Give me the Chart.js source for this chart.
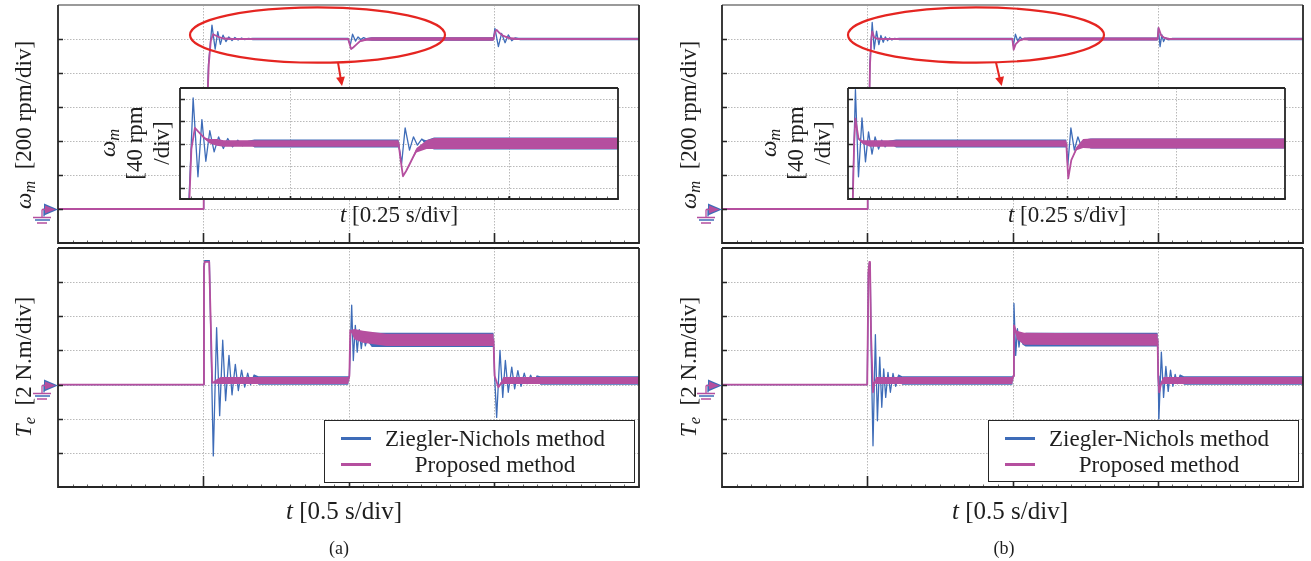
<!DOCTYPE html>
<html><head><meta charset="utf-8">
<script src="https://cdn.jsdelivr.net/npm/chart.js@4.4.0/dist/chart.umd.min.js"></script>
<style>
html,body{margin:0;padding:0;background:#fff;width:1311px;height:561px;overflow:hidden;position:relative;font-family:"Liberation Serif","Times New Roman",serif;color:#1e1e1e}
canvas{position:absolute}
.t{position:absolute;white-space:nowrap;font-size:23px;line-height:1;transform:translate(-50%,-50%);z-index:5}
.r{transform:translate(-50%,-50%) rotate(-90deg)}
.big{font-size:25px}
sub{font-size:0.72em;vertical-align:-0.28em;font-style:italic;line-height:0}
.cap{font-size:18px}
.legend{position:absolute;border:1.5px solid #262626;background:#fff;box-sizing:border-box;z-index:6}
.legend .row{position:absolute;left:0;width:100%;height:26px}
.legend .sw{position:absolute;left:16px;width:30px;height:3px;top:11px}
.legend .lt{position:absolute;left:52px;width:236px;text-align:center;font-size:23px;line-height:26px;top:0}
svg{position:absolute;left:0;top:0;z-index:4}
</style></head>
<body>
<script>
// ---------------- data (time in s, value, noise half-band in same units) ----------------
const seriesNames = ['Ziegler-Nichols method', 'Proposed method'];

const tRangeMain = [0, 2];
const tRangeInset = [0.5, 1.5];
const spdRange = [-200, 1200];
const spdRangeInset = [900, 1100];
const trqRange = [-6, 8];

const tGridMain = [0.5, 1.0, 1.5];
const tGridInset = [0.75, 1.0, 1.25];
const spdGrid = [0, 200, 400, 600, 800, 1000];
const spdGridInset = [920, 960, 1000, 1040, 1080];
const trqGrid = [-4, -2, 0, 2, 4, 6];

// speed [rpm], panel (a)
const spdZN_a = [[0,0,0],[0.5,0,0],[0.5015,60,0],[0.518,850,0],[0.530,1082,0],[0.541,940,0],[0.550,1043,0],[0.559,968,0],[0.568,1023,0],[0.578,985,0],[0.588,1012,0],[0.599,991,0],[0.609,1009,0],[0.620,994,0],[0.632,1006,0],[0.643,996,0],[0.655,1003,2],[0.67,1000,7],[0.999,1000,7],[1.006,964,0],[1.014,1028,0],[1.024,988,0],[1.033,1012,0],[1.042,997,0],[1.052,1008,0],[1.062,1000,6],[1.08,1000,11],[1.499,1000,11],[1.504,1063,0],[1.516,955,0],[1.527,1033,0],[1.539,978,0],[1.550,1024,0],[1.562,990,0],[1.573,1006,2],[1.59,1000,7],[2.0,1000,7]];
const spdPR_a = [[0,0,0],[0.5,0,0],[0.5015,60,0],[0.519,850,0],[0.526,990,0],[0.534,1028,0],[0.546,1018,0],[0.557,1009,2],[0.568,1004,4],[0.584,1002,6],[0.60,1000,6],[0.999,1000,6],[1.003,975,0],[1.009,941,0],[1.016,950,0],[1.025,964,0],[1.040,988,4],[1.063,998,8],[1.08,1000,10],[1.499,1000,10],[1.505,1045,0],[1.510,1053,0],[1.520,1035,0],[1.533,1018,2],[1.556,1004,6],[1.58,1000,6],[2.0,1000,6]];
// speed [rpm], panel (b)
const spdZN_b = [[0,0,0],[0.5,0,0],[0.5015,60,0],[0.509,850,0],[0.517,1097,0],[0.524,940,0],[0.532,1046,0],[0.540,967,0],[0.547,1021,0],[0.555,981,0],[0.562,1012,0],[0.570,990,0],[0.577,1006,0],[0.585,994,0],[0.593,1003,2],[0.61,1000,7],[0.9995,1000,7],[1.003,961,0],[1.010,1028,0],[1.018,988,0],[1.026,1012,0],[1.033,997,0],[1.041,1004,3],[1.055,1000,9],[1.4995,1000,9],[1.502,1065,0],[1.508,955,0],[1.514,1025,0],[1.520,985,0],[1.527,1008,0],[1.535,996,3],[1.55,1000,7],[2.0,1000,7]];
const spdPR_b = [[0,0,0],[0.5,0,0],[0.5015,60,0],[0.5095,850,0],[0.514,1000,0],[0.517,1045,0],[0.524,1009,0],[0.532,1003,3],[0.55,1000,6],[0.9995,1000,6],[1.002,965,0],[1.004,937,0],[1.011,970,0],[1.023,991,3],[1.038,1000,8],[1.06,1000,9],[1.4995,1000,9],[1.503,1065,0],[1.512,1020,0],[1.525,1005,4],[1.54,1000,6],[2.0,1000,6]];

// torque [N.m], panel (a)
const trqZN_a = [[0,0,0],[0.5,0,0],[0.5025,6.9,0],[0.505,7.26,0],[0.521,7.26,0],[0.526,3.0,0],[0.5346,-4.18,0],[0.546,3.33,0],[0.5565,-1.82,0],[0.567,2.6,0],[0.577,-0.94,0],[0.5886,1.71,0],[0.599,-0.6,0],[0.6104,1.18,0],[0.6207,-0.35,0],[0.632,0.85,0],[0.6427,-0.15,0],[0.653,0.67,0],[0.663,0.0,0],[0.674,0.5,0.1],[0.69,0.24,0.25],[0.999,0.24,0.25],[1.003,0.5,0],[1.011,4.65,0],[1.0166,1.41,0],[1.0235,3.47,0],[1.030,1.9,0],[1.037,3.22,0],[1.044,2.1,0],[1.051,2.98,0],[1.058,2.27,0],[1.065,2.75,0.2],[1.08,2.62,0.42],[1.499,2.62,0.42],[1.503,0.5,0],[1.510,-1.92,0],[1.5215,2.0,0],[1.531,-0.75,0],[1.540,1.41,0],[1.550,-0.45,0],[1.562,1.02,0],[1.572,-0.25,0],[1.583,0.82,0],[1.594,-0.1,0],[1.605,0.67,0],[1.615,0.05,0],[1.627,0.55,0],[1.638,0.1,0],[1.648,0.45,0.1],[1.66,0.24,0.25],[2.0,0.24,0.25]];
const trqPR_a = [[0,0,0],[0.5,0,0],[0.5025,6.9,0],[0.505,7.19,0],[0.5205,7.19,0],[0.531,0.1,0],[0.54,0.15,0.1],[0.56,0.24,0.2],[0.999,0.24,0.2],[1.003,0.5,0],[1.006,3.18,0],[1.02,2.95,0.3],[1.05,2.8,0.35],[1.13,2.62,0.36],[1.499,2.62,0.36],[1.503,0.5,0],[1.516,-0.16,0],[1.526,0.1,0.1],[1.533,0.24,0.2],[2.0,0.24,0.2]];
// torque [N.m], panel (b)
const trqZN_b = [[0,0,0],[0.5,0,0],[0.504,6.5,0],[0.507,7.1,0],[0.510,7.1,0],[0.5135,2.0,0],[0.5198,-3.59,0],[0.528,2.92,0],[0.535,-2.12,0],[0.543,1.61,0],[0.550,-1.33,0],[0.5566,0.92,0],[0.5635,-0.75,0],[0.5714,0.72,0],[0.5796,-0.45,0],[0.5886,0.65,0],[0.598,-0.1,0],[0.607,0.5,0.1],[0.62,0.24,0.25],[0.9995,0.24,0.25],[1.002,0.5,0],[1.005,4.75,0],[1.011,1.71,0],[1.017,3.27,0],[1.0223,2.2,0],[1.028,2.98,0],[1.034,2.45,0.1],[1.045,2.63,0.4],[1.4995,2.63,0.4],[1.5015,0.5,0],[1.504,-2.02,0],[1.5124,1.9,0],[1.520,-0.75,0],[1.528,1.06,0],[1.536,-0.4,0],[1.544,0.85,0],[1.552,-0.1,0],[1.560,0.6,0],[1.568,0.05,0],[1.576,0.5,0.1],[1.59,0.24,0.25],[2.0,0.24,0.25]];
const trqPR_b = [[0,0,0],[0.5,0,0],[0.504,6.6,0],[0.5075,7.19,0],[0.5095,7.19,0],[0.513,3.0,0],[0.5198,-0.45,0],[0.524,0.1,0],[0.53,0.24,0.2],[0.9995,0.24,0.2],[1.002,0.5,0],[1.005,3.47,0],[1.015,2.9,0.25],[1.04,2.68,0.35],[1.4995,2.63,0.35],[1.5015,0.5,0],[1.505,-0.45,0],[1.512,0.1,0.1],[1.52,0.24,0.2],[2.0,0.24,0.2]];

// ---------------- drawing ----------------
const BLUE = '#3e6cb8', MAG = '#b54f9f', FRAME = '#262626';

function band(arr, color, lw, order) {
  const up = arr.map(p => ({x: p[0], y: p[1] + p[2]}));
  const lo = arr.map(p => ({x: p[0], y: p[1] - p[2]}));
  const mid = arr.map(p => ({x: p[0], y: p[1]}));
  return [
    {data: up, borderWidth: 0, borderColor: 'rgba(0,0,0,0)', fill: false, order: order + 1},
    {data: lo, borderWidth: 0, borderColor: 'rgba(0,0,0,0)', backgroundColor: color, fill: '-1', order: order + 1},
    {data: mid, borderWidth: lw, borderColor: color, fill: false, order: order}
  ];
}

function framePlugin(cfg) {
  return {
    id: 'frame',
    beforeDatasetsDraw(chart) {
      const {ctx, chartArea: a, scales: {x, y}} = chart;
      ctx.save();
      if (cfg.bg) { ctx.fillStyle = '#fff'; ctx.fillRect(a.left - 1, a.top - 1, a.right - a.left + 2, a.bottom - a.top + 2); }
      ctx.strokeStyle = '#b9b9b9'; ctx.lineWidth = 1; ctx.setLineDash([1.5, 1.5]);
      ctx.beginPath();
      cfg.xGrid.forEach(v => { const px = Math.round(x.getPixelForValue(v)) + 0.5; ctx.moveTo(px, a.top); ctx.lineTo(px, a.bottom); });
      cfg.yGrid.forEach(v => { const py = Math.round(y.getPixelForValue(v)) + 0.5; ctx.moveTo(a.left, py); ctx.lineTo(a.right, py); });
      ctx.stroke();
      ctx.restore();
    },
    afterDraw(chart) {
      const {ctx, chartArea: a, scales: {x, y}} = chart;
      ctx.save();
      ctx.setLineDash([]);
      // minor ticks on bottom edge
      ctx.strokeStyle = '#666'; ctx.lineWidth = 1;
      ctx.beginPath();
      const step = cfg.xStep / 10;
      for (let v = x.min; v <= x.max + 1e-9; v += step) {
        const px = Math.round(x.getPixelForValue(v)) + 0.5;
        ctx.moveTo(px, a.bottom); ctx.lineTo(px, a.bottom - 2.5);
      }
      ctx.stroke();
      // major ticks
      ctx.strokeStyle = FRAME; ctx.lineWidth = 1.6;
      ctx.beginPath();
      cfg.yGrid.forEach(v => { const py = Math.round(y.getPixelForValue(v)) + 0.5; ctx.moveTo(a.left, py); ctx.lineTo(a.left + 5, py); });
      cfg.xGrid.forEach(v => { const px = Math.round(x.getPixelForValue(v)) + 0.5; ctx.moveTo(px, a.bottom); ctx.lineTo(px, a.bottom - cfg.tall); });
      ctx.stroke();
      // frame
      ctx.lineWidth = 1.8;
      ctx.strokeStyle = cfg.topLight ? '#9a9a9a' : FRAME;
      ctx.beginPath(); ctx.moveTo(a.left, a.top); ctx.lineTo(a.right, a.top); ctx.stroke();
      ctx.strokeStyle = FRAME;
      ctx.beginPath(); ctx.moveTo(a.right, a.top); ctx.lineTo(a.right, a.bottom); ctx.lineTo(a.left, a.bottom); ctx.lineTo(a.left, a.top); ctx.stroke();
      // ground marker at zero level
      if (cfg.ground) {
        const y0 = Math.round(y.getPixelForValue(0)) + 0.5, xl = a.left;
        ctx.fillStyle = BLUE;
        ctx.beginPath(); ctx.moveTo(xl - 14, y0 - 6); ctx.lineTo(xl, y0); ctx.lineTo(xl - 14, y0 + 6); ctx.closePath(); ctx.fill();
        ctx.fillStyle = MAG;
        ctx.beginPath(); ctx.moveTo(xl - 13, y0 - 4); ctx.lineTo(xl - 2.5, y0); ctx.lineTo(xl - 13, y0 + 4); ctx.closePath(); ctx.fill();
        ctx.lineWidth = 1.3;
        ctx.strokeStyle = BLUE;
        ctx.beginPath(); ctx.moveTo(xl - 14, y0 - 1); ctx.lineTo(xl - 14, y0 + 7);
        ctx.moveTo(xl - 23, y0 + 10.5); ctx.lineTo(xl - 8, y0 + 10.5); ctx.stroke();
        ctx.strokeStyle = MAG;
        ctx.beginPath(); ctx.moveTo(xl - 16, y0); ctx.lineTo(xl - 13, y0);
        ctx.moveTo(xl - 16, y0); ctx.lineTo(xl - 16, y0 + 8);
        ctx.moveTo(xl - 25, y0 + 8); ctx.lineTo(xl - 7, y0 + 8);
        ctx.moveTo(xl - 21, y0 + 13.5); ctx.lineTo(xl - 11, y0 + 13.5); ctx.stroke();
      }
      ctx.restore();
    }
  };
}

function makeChart(frame, pad, xr, yr, xGrid, yGrid, xStep, datasets, cfg) {
  const c = document.createElement('canvas');
  const w = frame[2] - frame[0] + pad.left + pad.right;
  const h = frame[3] - frame[1] + pad.top + pad.bottom;
  c.width = w; c.height = h;
  c.style.left = (frame[0] - pad.left) + 'px';
  c.style.top = (frame[1] - pad.top) + 'px';
  c.style.width = w + 'px'; c.style.height = h + 'px';
  c.style.zIndex = cfg.z;
  document.body.appendChild(c);
  return new Chart(c, {
    type: 'line',
    data: {datasets},
    options: {
      responsive: false, animation: false, devicePixelRatio: 1,
      parsing: false, events: [],
      layout: {padding: pad},
      plugins: {legend: {display: false}, tooltip: {enabled: false}, filler: {propagate: false}},
      elements: {point: {radius: 0}, line: {tension: 0, borderJoinStyle: 'round'}},
      scales: {
        x: {type: 'linear', min: xr[0], max: xr[1], display: false},
        y: {type: 'linear', min: yr[0], max: yr[1], display: false}
      }
    },
    plugins: [framePlugin(Object.assign({xGrid, yGrid, xStep}, cfg))]
  });
}

const padMain = {left: 34, right: 3, top: 3, bottom: 3};
const padInset = {left: 3, right: 3, top: 3, bottom: 3};
const panels = [
  {ox: 58, spdZN: spdZN_a, spdPR: spdPR_a, trqZN: trqZN_a, trqPR: trqPR_a, inset: [180, 88, 618, 199]},
  {ox: 722, spdZN: spdZN_b, spdPR: spdPR_b, trqZN: trqZN_b, trqPR: trqPR_b, inset: [848, 88, 1285, 199]}
];
panels.forEach(p => {
  const W = 581;
  makeChart([p.ox, 5, p.ox + W, 243], padMain, tRangeMain, spdRange, tGridMain, spdGrid, 0.5,
    [...band(p.spdZN, BLUE, 1.3, 2), ...band(p.spdPR, MAG, 1.8, 0)],
    {topLight: true, ground: true, tall: 10, z: 1});
  makeChart([p.ox, 248, p.ox + W, 487], padMain, tRangeMain, trqRange, tGridMain, trqGrid, 0.5,
    [...band(p.trqZN, BLUE, 1.3, 2), ...band(p.trqPR, MAG, 1.8, 0)],
    {topLight: false, ground: true, tall: 11, z: 1});
  makeChart(p.inset, padInset, tRangeInset, spdRangeInset, tGridInset, spdGridInset, 0.25,
    [...band(p.spdZN, BLUE, 1.3, 2), ...band(p.spdPR, MAG, 1.8, 0)],
    {topLight: false, ground: false, tall: 3, bg: true, z: 2});
});
</script>

<svg width="1311" height="561">
  <ellipse cx="317.5" cy="35" rx="127.5" ry="27.7" fill="none" stroke="#e52521" stroke-width="2.2"/>
  <line x1="338" y1="62.5" x2="340.6" y2="78" stroke="#e52521" stroke-width="2"/>
  <polygon points="342,86 336.1,77.8 344.9,76.4" fill="#e52521"/>
  <ellipse cx="976" cy="35" rx="128" ry="27.7" fill="none" stroke="#e52521" stroke-width="2.2"/>
  <line x1="996" y1="62.5" x2="999.6" y2="78" stroke="#e52521" stroke-width="2"/>
  <polygon points="1001.7,86 995.2,78.2 1004,76.2" fill="#e52521"/>
</svg>

<!-- axis labels panel (a) -->
<div class="t r" style="left:23px;top:125px"><i>ω</i><sub>m</sub>&nbsp; [200 rpm/div]</div>
<div class="t r" style="left:23px;top:367px"><i>T</i><sub>e</sub>&nbsp; [2 N.m/div]</div>
<div class="t r" style="left:134px;top:143px;text-align:center;line-height:27px"><i>ω</i><sub>m</sub><br>[40 rpm<br>/div]</div>
<div class="t" style="left:399px;top:214px"><i>t</i> [0.25 s/div]</div>
<div class="t big" style="left:344px;top:510px"><i>t</i> [0.5 s/div]</div>
<div class="t cap" style="left:339px;top:548px">(a)</div>
<!-- axis labels panel (b) -->
<div class="t r" style="left:688px;top:125px"><i>ω</i><sub>m</sub>&nbsp; [200 rpm/div]</div>
<div class="t r" style="left:688px;top:367px"><i>T</i><sub>e</sub>&nbsp; [2 N.m/div]</div>
<div class="t r" style="left:795px;top:143px;text-align:center;line-height:27px"><i>ω</i><sub>m</sub><br>[40 rpm<br>/div]</div>
<div class="t" style="left:1067px;top:214px"><i>t</i> [0.25 s/div]</div>
<div class="t big" style="left:1010px;top:510px"><i>t</i> [0.5 s/div]</div>
<div class="t cap" style="left:1004px;top:548px">(b)</div>

<div class="legend" style="left:324px;top:420px;width:311px;height:63px">
  <div class="row" style="top:5px"><div class="sw" style="background:#3e6cb8"></div><div class="lt" id="la0"></div></div>
  <div class="row" style="top:31px"><div class="sw" style="background:#b54f9f"></div><div class="lt" id="la1"></div></div>
</div>
<div class="legend" style="left:988px;top:420px;width:311px;height:62px">
  <div class="row" style="top:5px"><div class="sw" style="background:#3e6cb8"></div><div class="lt" id="lb0"></div></div>
  <div class="row" style="top:31px"><div class="sw" style="background:#b54f9f"></div><div class="lt" id="lb1"></div></div>
</div>
<script>
['la','lb'].forEach(k => seriesNames.forEach((n, i) => { document.getElementById(k + i).textContent = n; }));
</script>
</body></html>
